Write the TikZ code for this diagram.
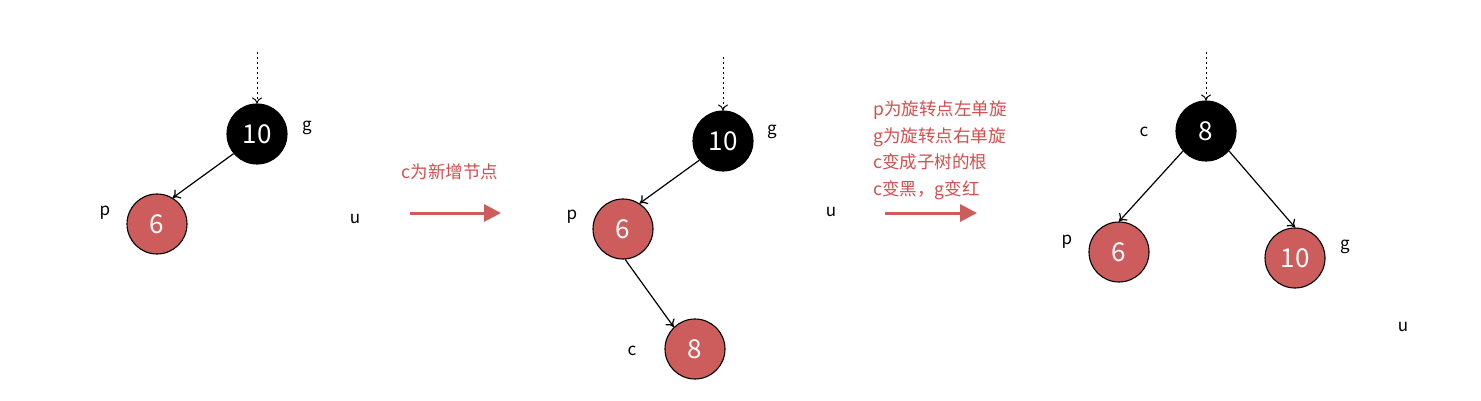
\documentclass[tikz,border=0pt]{standalone}
\usepackage{fontspec}
\setmainfont{Noto Sans CJK SC}
\usetikzlibrary{arrows.meta}
\definecolor{rbred}{HTML}{CD5C5C}
\definecolor{txtred}{HTML}{D0504F}
\begin{document}
\begin{tikzpicture}[x=1pt,y=-1pt,
  blk/.style={circle,draw=black,fill=black,line width=1.1pt,minimum size=60pt,inner sep=0pt,text=white,font=\fontsize{26}{26}\selectfont},
  rd/.style={circle,draw=black,fill=rbred,line width=1.1pt,minimum size=60pt,inner sep=0pt,text=white,font=\fontsize{26}{26}\selectfont},
  lbl/.style={font=\fontsize{17}{17}\selectfont,text=black,inner sep=0pt},
  edge/.style={-{To[length=7pt,width=11pt]},line width=1.2pt},
  dots/.style={-{To[length=6pt,width=10pt]},line width=1pt,dash pattern=on 2.5pt off 2.5pt},
  bigarrow/.style={-{Triangle[length=17pt,width=17pt]},line width=3pt,draw=rbred},
  note/.style={font=\fontsize{17.5}{26.5}\selectfont,text=txtred,align=left,inner sep=0pt}]
\useasboundingbox (0,0) rectangle (1481,401);
% tree 1
\node[blk] (g1) at (257,134) {10};
\node[rd] (p1) at (157,224) {6};
\coordinate (t1) at (257,52);
\draw[dots] (t1) -- (g1.north);
\draw[edge] (g1.220) -- (p1.59);
\node[lbl] (lg1) at (307,128) {g};
\node[lbl] (lp1) at (105,213) {p};
\node[lbl] (lu1) at (355,219) {u};
% arrow 1
\node[note] (n1) at (450,172) {c为新增节点};
\coordinate (a1s) at (410,213);
\coordinate (a1e) at (501,213);
\draw[bigarrow] (a1s) -- (a1e);
% tree 2
\node[blk] (g2) at (723,141) {10};
\node[rd] (p2) at (623,229) {6};
\node[rd] (c2) at (695,349) {8};
\coordinate (t2) at (723,57);
\draw[dots] (t2) -- (g2.north);
\draw[edge] (g2.219) -- (p2.57);
\draw[edge] (p2.274) -- (c2.134);
\node[lbl] (lg2) at (772,132) {g};
\node[lbl] (lp2) at (572,217) {p};
\node[lbl] (lc2) at (632,351) {c};
\node[lbl] (lu2) at (831,212) {u};
% arrow 2
\node[note,anchor=north west] (n2) at (873,101) {p为旋转点左单旋\\g为旋转点右单旋\\c变成子树的根\\c变黑，g变红};
\coordinate (a2s) at (885,213);
\coordinate (a2e) at (977,213);
\draw[bigarrow] (a2s) -- (a2e);
% tree 3
\node[blk] (c3) at (1206,131) {8};
\node[rd] (p3) at (1119,252) {6};
\node[rd] (g3) at (1295,258) {10};
\coordinate (t3) at (1206,52);
\draw[dots] (t3) -- (c3.north);
\draw[edge] (c3.221) -- (p3.north);
\draw[edge] (c3.319) -- (g3.north);
\node[lbl] (lc3) at (1144,132) {c};
\node[lbl] (lp3) at (1067,242) {p};
\node[lbl] (lg3) at (1345,247) {g};
\node[lbl] (lu3) at (1403,327) {u};
\end{tikzpicture}
\end{document}
